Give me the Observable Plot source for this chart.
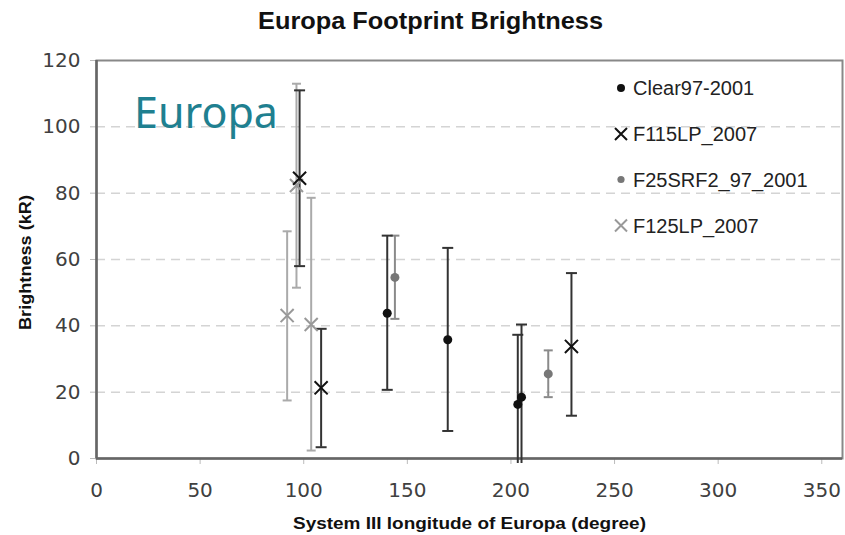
<!DOCTYPE html>
<html>
<head>
<meta charset="utf-8">
<script src="https://cdn.jsdelivr.net/npm/d3@7"></script>
<script src="https://cdn.jsdelivr.net/npm/@observablehq/plot@0.6"></script>
<style>
  html, body { margin: 0; padding: 0; background: #fff; }
  #wrap { position: relative; width: 845px; height: 535px; overflow: hidden; }
  #europa { position: absolute; left: 134px; top: 90px; font-family: "Noto Sans", sans-serif; font-size: 43px; color: #1f8090; line-height: 1; }
</style>
</head>
<body>
<div id="wrap"></div>
<script>
// ---- Data ----
const seriesNames = ["Clear97-2001", "F115LP_2007", "F25SRF2_97_2001", "F125LP_2007"];

const clearX  = [140.3, 169.5, 203.3, 205.1];
const clearY  = [43.8, 35.8, 16.3, 18.5];
const clearLo = [20.7, 8.3, -1.5, -1.5];
const clearHi = [67.2, 63.5, 37.3, 40.4];

const f115X  = [98.0, 108.4, 229.2];
const f115Y  = [84.5, 21.3, 33.8];
const f115Lo = [58.0, 3.4, 12.9];
const f115Hi = [111.0, 39.1, 55.9];

const f25X  = [144.0, 218.0];
const f25Y  = [54.6, 25.5];
const f25Lo = [42.1, 18.5];
const f25Hi = [67.2, 32.6];

const f125X  = [92.0, 96.5, 103.6];
const f125Y  = [43.1, 82.3, 40.4];
const f125Lo = [17.5, 51.5, 2.4];
const f125Hi = [68.5, 113.0, 78.6];

const xTicks = [0, 50, 100, 150, 200, 250, 300, 350];
const yTicks = [0, 20, 40, 60, 80, 100, 120];
const gridTicks = [20, 40, 60, 80, 100];

const titleText = "Europa Footprint Brightness";
const xLabel = "System III longitude of Europa (degree)";
const yLabel = "Brightness (kR)";
const overlayText = "Europa";

// ---- Build tables ----
const table = (xs, ys, los, his) => xs.map((x, i) => ({x, y: ys[i], lo: los[i], hi: his[i]}));
const clear = table(clearX, clearY, clearLo, clearHi);
const f115 = table(f115X, f115Y, f115Lo, f115Hi);
const f25 = table(f25X, f25Y, f25Lo, f25Hi);
const f125 = table(f125X, f125Y, f125Lo, f125Hi);

const caps = (rows) => rows.flatMap(d => [d.lo, d.hi].filter(v => v >= 0).map(v => ({x: d.x, y: v})));

const capSymbol = {
  draw(context, size) {
    const w = Math.sqrt(size / Math.PI);
    context.moveTo(-w, 0);
    context.lineTo(w, 0);
  }
};

const errorMarks = (rows, color, width, capR) => [
  Plot.ruleX(rows, {x: "x", y1: "lo", y2: "hi", stroke: color, strokeWidth: width}),
  Plot.dot(caps(rows), {x: "x", y: "y", symbol: capSymbol, r: capR, fill: "none", stroke: color, strokeWidth: width})
];

const chart = Plot.plot({
  width: 845,
  height: 535,
  marginLeft: 96,
  marginRight: 3,
  marginTop: 60,
  marginBottom: 77,
  style: {fontFamily: "DejaVu Sans, sans-serif", fontSize: "20px", color: "#bbbbbb", background: "#fff", overflow: "visible"},
  x: {domain: [0, 360], ticks: xTicks, label: null, tickSize: 6, tickPadding: 18},
  y: {domain: [0, 120], ticks: yTicks, label: null, tickSize: 6, tickPadding: 10},
  marks: [
    Plot.ruleY(gridTicks, {stroke: "#d4d4d4", strokeWidth: 1.5, strokeDasharray: "9,6"}),
    Plot.frame({stroke: "#888", strokeWidth: 2}),
    Plot.ruleX([0], {stroke: "#666", strokeWidth: 2.5}),
    Plot.ruleY([0], {stroke: "#666", strokeWidth: 2.5}),
    ...errorMarks(f125, "#aaaaaa", 2, 4.5),
    ...errorMarks(f25, "#8a8a8a", 2, 4.5),
    ...errorMarks(clear, "#333333", 2, 5.5),
    ...errorMarks(f115, "#333333", 2, 5.5),
    Plot.dot(f125, {x: "x", y: "y", symbol: "times", r: 6, stroke: "#999999", strokeWidth: 2}),
    Plot.dot(f25, {x: "x", y: "y", r: 4.5, fill: "#777777"}),
    Plot.dot(clear, {x: "x", y: "y", r: 4.5, fill: "#111111"}),
    Plot.dot(f115, {x: "x", y: "y", symbol: "times", r: 6, stroke: "#111111", strokeWidth: 2})
  ]
});

document.getElementById("wrap").appendChild(chart);

const svg = d3.select(chart);
svg.selectAll('[aria-label*="axis"] text').style("fill", "#404040");

const addText = (x, y, txt, size, opts = {}) => {
  const t = svg.append("text")
    .attr("x", x).attr("y", y)
    .attr("text-anchor", "start")
    .style("text-anchor", "start")
    .style("font-family", "Liberation Sans, Arial, sans-serif")
    .style("font-size", size + "px")
    .style("font-weight", opts.bold ? "bold" : "normal")
    .style("fill", opts.fill || "#111")
    .text(txt);
  if (opts.length) t.attr("textLength", opts.length).attr("lengthAdjust", "spacingAndGlyphs");
  if (opts.transform) t.attr("transform", opts.transform);
  return t;
};

// Title
addText(258, 29, titleText, 23, {bold: true, length: 345});
// X axis title
addText(293, 529, xLabel, 17, {bold: true, length: 353});
// Y axis title
addText(0, 0, yLabel, 17, {bold: true, length: 135, transform: "translate(31,330) rotate(-90)"});

// Legend
const legendRows = [
  {name: seriesNames[0], y: 88, kind: "dot", color: "#111111", r: 4},
  {name: seriesNames[1], y: 134, kind: "x", color: "#111111"},
  {name: seriesNames[2], y: 179.5, kind: "dot", color: "#777777", r: 3.6},
  {name: seriesNames[3], y: 225.5, kind: "x", color: "#999999"}
];
const lg = svg.append("g");
legendRows.forEach(row => {
  if (row.kind === "dot") {
    lg.append("circle").attr("cx", 621).attr("cy", row.y).attr("r", row.r).attr("fill", row.color);
  } else {
    const s = 6;
    lg.append("path")
      .attr("d", `M${621 - s},${row.y - s}L${621 + s},${row.y + s}M${621 - s},${row.y + s}L${621 + s},${row.y - s}`)
      .attr("stroke", row.color).attr("stroke-width", 2).attr("fill", "none");
  }
  addText(633, row.y + 7, row.name, 20, {fill: "#222"});
});

// Overlay label
const ov = document.createElement("div");
ov.id = "europa";
ov.textContent = overlayText;
document.getElementById("wrap").appendChild(ov);
</script>
</body>
</html>
